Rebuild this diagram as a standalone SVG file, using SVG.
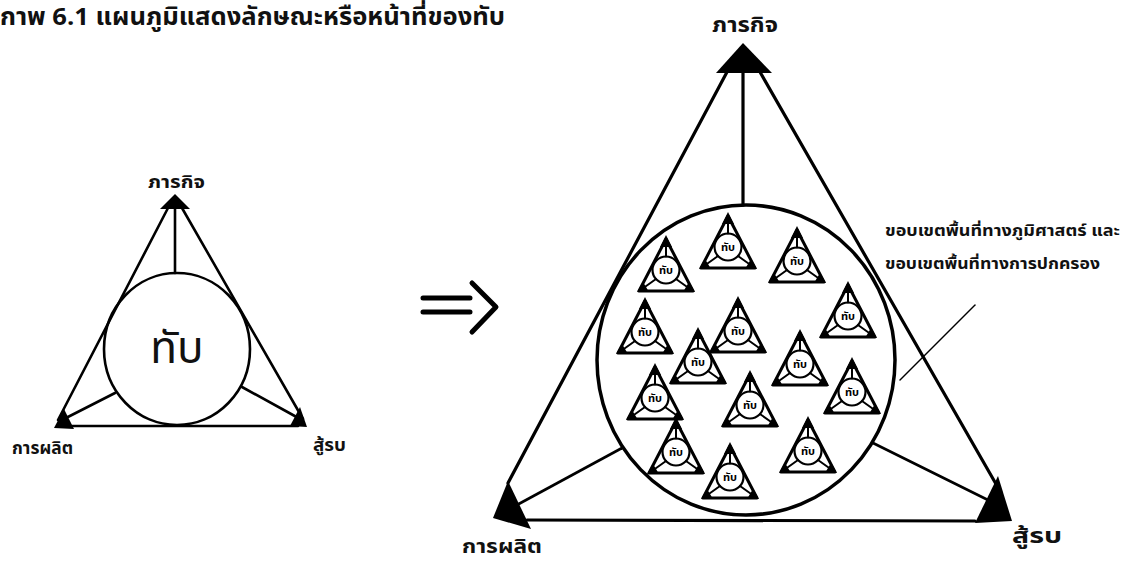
<svg xmlns="http://www.w3.org/2000/svg" xmlns:xlink="http://www.w3.org/1999/xlink" width="1124" height="564" viewBox="0 0 1124 564">
<style>
.ln{stroke:#000;fill:none;stroke-linecap:round;stroke-linejoin:round}
.s1{stroke-width:2.6}
.s2{stroke-width:3.2}
.fl{fill:#000;stroke:none}
.t{font-family:"Noto Sans Thai","Noto Sans","DejaVu Sans",sans-serif;fill:#111;font-weight:bold}
.tn{font-family:"Noto Sans Thai","Noto Sans","DejaVu Sans",sans-serif;fill:#111}
.mt{font-family:"Noto Sans Thai","Noto Sans","DejaVu Sans",sans-serif;fill:#000;font-weight:bold;font-size:11px;text-anchor:middle}
</style>
<defs>
<g id="unit">
<path class="ln" d="M0,-31 L27,21 L-27,21 Z" stroke-width="3"/>
<path class="fl" d="M0,-35 L-6,-23 L6,-23 Z"/>
<path class="fl" d="M-29,22 L-23,12 L-17,22 Z"/>
<path class="fl" d="M29,22 L23,12 L17,22 Z"/>
<circle class="ln" cx="0" cy="0" r="13.5" stroke-width="2.2"/>
<path class="ln" d="M0,-31 L0,-13.5 M-10,9 L-24,19 M10,9 L24,19" stroke-width="2"/>
</g>
</defs>
<rect width="1124" height="564" fill="#fff"/>

<text id="title" class="t" x="0" y="25" font-size="24" textLength="505" lengthAdjust="spacingAndGlyphs">กาพ 6.1 แผนภูมิแสดงลักษณะหรือหน้าที่ของทับ</text>

<!-- small diagram -->
<g id="small-connectors">
<path class="ln s1" d="M168,208 L58,420"/>
<path class="ln s1" d="M182,208 L303,419"/>
<path class="ln s1" d="M64,426 L298,426"/>
<path class="ln s1" d="M175,209 L175,273"/>
<path class="ln s1" d="M115,393 L62,420"/>
<path class="ln s1" d="M242,387 L302,420"/>
<path class="fl" d="M175,194 L160,209 L190,209 Z"/>
<path class="fl" d="M54,428 L64,409 L74,429 Z"/>
<path class="fl" d="M307,427 L300,407 L290,426 Z"/>
</g>
<g id="small-hub">
<ellipse class="ln s1" cx="177" cy="349" rx="73" ry="76"/>
<text class="tn" x="177" y="363" font-size="44" text-anchor="middle">ทับ</text>
</g>
<g id="small-mission"><text class="t" x="148" y="188" font-size="18" textLength="57" lengthAdjust="spacingAndGlyphs">ภารกิจ</text></g>
<g id="small-production"><text class="t" x="12" y="454" font-size="18" textLength="61" lengthAdjust="spacingAndGlyphs">การผลิต</text></g>
<g id="small-fight"><text class="t" x="313" y="451" font-size="18" textLength="33" lengthAdjust="spacingAndGlyphs">สู้รบ</text></g>

<!-- arrow -->
<g id="transform-arrow">
<path class="ln" stroke-width="5" stroke-linecap="butt" d="M423,298 L470,298 M423,312 L470,312"/>
<path class="ln" stroke-width="5" stroke-linecap="butt" stroke-linejoin="miter" d="M472,283 L496,307 L472,332"/>
</g>

<!-- big diagram -->
<g id="connectors">
<path class="ln s2" d="M727,72 L508,483"/>
<path class="ln s2" d="M760,72 L996,484"/>
<path class="ln s2" d="M527,520 L975,521"/>
<path class="ln s2" d="M743,72 L743,205"/>
<path class="ln s1" d="M622,448 L515,506"/>
<path class="ln s1" d="M873,443 L990,501"/>
<path class="fl" d="M743,43 L716,73 L772,73 Z"/>
<path class="fl" d="M493,518 L508,481 L531,529 Z"/>
<path class="fl" d="M975,523 L998,476 L1012,521 Z"/>
<path class="ln" stroke-width="1.5" d="M975,305 L900,380"/>
</g>
<g id="big-hub">
<ellipse class="ln" stroke-width="3.5" cx="746" cy="360" rx="149" ry="155"/>
</g>
<g id="u1"><use xlink:href="#unit" x="666" y="270"/><text class="mt" x="666" y="274">ทับ</text></g>
<g id="u2"><use xlink:href="#unit" x="728" y="247"/><text class="mt" x="728" y="251">ทับ</text></g>
<g id="u3"><use xlink:href="#unit" x="797" y="261"/><text class="mt" x="797" y="265">ทับ</text></g>
<g id="u4"><use xlink:href="#unit" x="848" y="316"/><text class="mt" x="848" y="320">ทับ</text></g>
<g id="u5"><use xlink:href="#unit" x="645" y="332"/><text class="mt" x="645" y="336">ทับ</text></g>
<g id="u6"><use xlink:href="#unit" x="738" y="331"/><text class="mt" x="738" y="335">ทับ</text></g>
<g id="u7"><use xlink:href="#unit" x="698" y="362"/><text class="mt" x="698" y="366">ทับ</text></g>
<g id="u8"><use xlink:href="#unit" x="800" y="364"/><text class="mt" x="800" y="368">ทับ</text></g>
<g id="u9"><use xlink:href="#unit" x="655" y="398"/><text class="mt" x="655" y="402">ทับ</text></g>
<g id="u10"><use xlink:href="#unit" x="750" y="405"/><text class="mt" x="750" y="409">ทับ</text></g>
<g id="u11"><use xlink:href="#unit" x="852" y="392"/><text class="mt" x="852" y="396">ทับ</text></g>
<g id="u12"><use xlink:href="#unit" x="676" y="452"/><text class="mt" x="676" y="456">ทับ</text></g>
<g id="u13"><use xlink:href="#unit" x="730" y="477"/><text class="mt" x="730" y="481">ทับ</text></g>
<g id="u14"><use xlink:href="#unit" x="808" y="451"/><text class="mt" x="808" y="455">ทับ</text></g>

<g id="big-mission"><text class="t" x="712" y="32" font-size="22" textLength="66" lengthAdjust="spacingAndGlyphs">ภารกิจ</text></g>
<g id="big-production"><text class="t" x="462" y="553" font-size="20" textLength="80" lengthAdjust="spacingAndGlyphs">การผลิต</text></g>
<g id="big-fight"><text class="t" x="1012" y="543" font-size="22" textLength="50" lengthAdjust="spacingAndGlyphs">สู้รบ</text></g>
<g id="boundary-note">
<text class="t" x="885" y="236" font-size="15" textLength="235" lengthAdjust="spacingAndGlyphs">ขอบเขตพื้นที่ทางภูมิศาสตร์ และ</text>
<text class="t" x="885" y="269" font-size="15" textLength="215" lengthAdjust="spacingAndGlyphs">ขอบเขตพื้นที่ทางการปกครอง</text>
</g>
</svg>
